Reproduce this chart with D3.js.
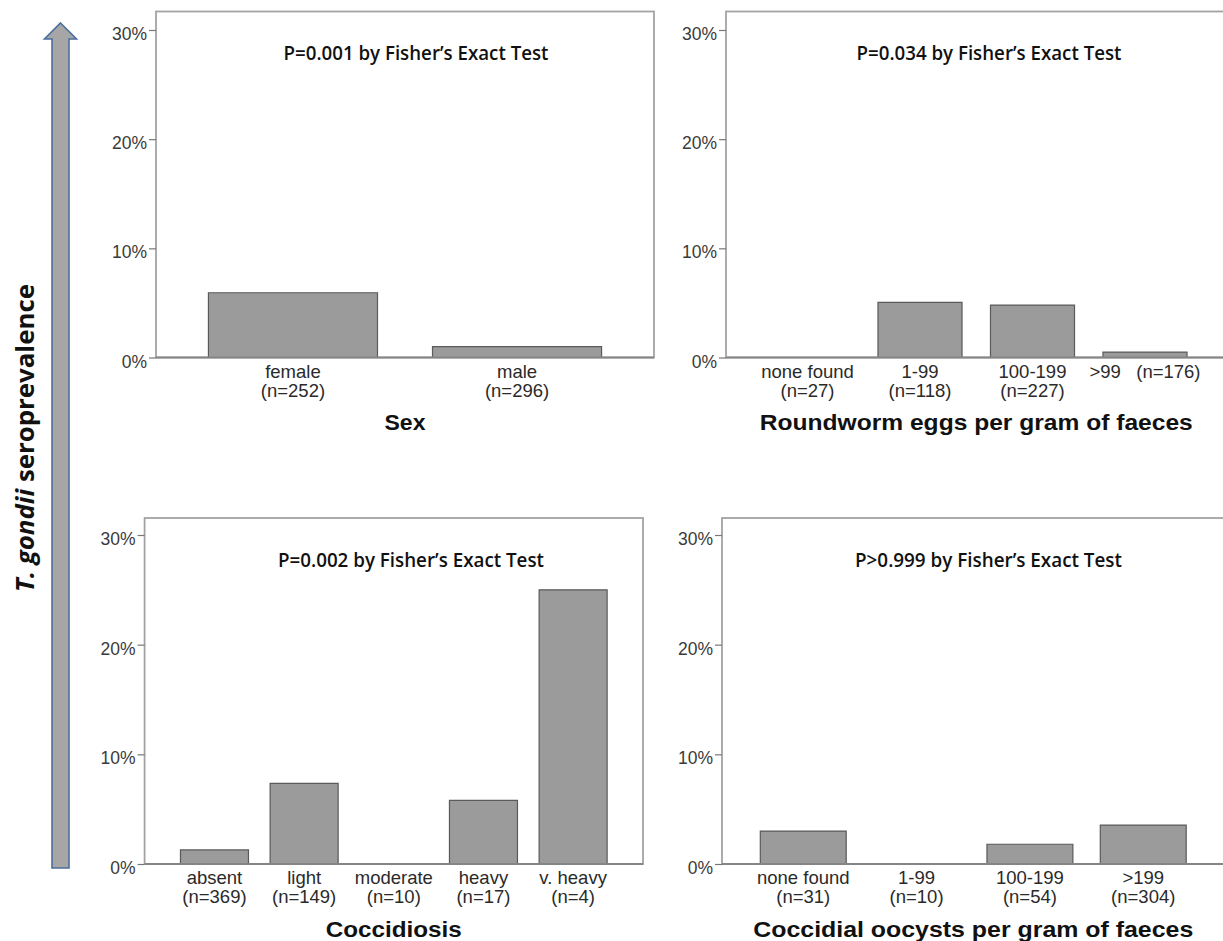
<!DOCTYPE html>
<html>
<head>
<meta charset="utf-8">
<script src="https://cdn.jsdelivr.net/npm/d3@7"></script>
<style>
  html, body { margin: 0; padding: 0; background: #fff; }
  svg { display: block; }
</style>
</head>
<body>
<svg id="chart" width="1223" height="941"></svg>
<script>
// ---------- data ----------
const sexCats = ["female", "male"];
const sexN = [252, 296];
const sexVals = [5.93, 0.99];

const roundCats = ["none found", "1-99", "100-199", ">99"];
const roundN = [27, 118, 227, 176];
const roundVals = [0, 5.05, 4.8, 0.5];

const coccCats = ["absent", "light", "moderate", "heavy", "v. heavy"];
const coccN = [369, 149, 10, 17, 4];
const coccVals = [1.28, 7.35, 0, 5.8, 25.0];

const oocCats = ["none found", "1-99", "100-199", ">199"];
const oocN = [31, 10, 54, 304];
const oocVals = [3.0, 0, 1.8, 3.55];

const yTicks = [0, 10, 20, 30];
const pTexts = ["P=0.001 by Fisher\u2019s Exact Test", "P=0.034 by Fisher\u2019s Exact Test",
                "P=0.002 by Fisher\u2019s Exact Test", "P>0.999 by Fisher\u2019s Exact Test"];
const xTitles = ["Sex", "Roundworm eggs per gram of faeces", "Coccidiosis", "Coccidial oocysts per gram of faeces"];
const yTitleItalic = "T. gondii";
const yTitleRest = " seroprevalence";

// ---------- layout ----------
const panels = [
  { cats: sexCats, n: sexN, vals: sexVals, left: 156, right: 654, top: 11.5, zero: 357.5, y30: 30,
    pi: 0.2455, po: 0.234, pText: pTexts[0], pX: 416, pLen: 265, title: xTitles[0], titleLen: 41, oneLine: [] },
  { cats: roundCats, n: roundN, vals: roundVals, left: 726, right: 1226.5, top: 11.5, zero: 357.5, y30: 30,
    pi: 0.253, po: 0.351, pText: pTexts[1], pX: 989, pLen: 265, title: xTitles[1], titleLen: 433, oneLine: [">99"] },
  { cats: coccCats, n: coccN, vals: coccVals, left: 144.6, right: 643, top: 518, zero: 864, y30: 535,
    pi: 0.2415, po: 0.40, pText: pTexts[2], pX: 411, pLen: 266, title: xTitles[2], titleLen: 136, oneLine: [] },
  { cats: oocCats, n: oocN, vals: oocVals, left: 722, right: 1224.5, top: 518, zero: 864, y30: 535,
    pi: 0.242, po: 0.338, pText: pTexts[3], pX: 988.5, pLen: 267, title: xTitles[3], titleLen: 440, oneLine: [] }
];

const svg = d3.select("#chart");
const labelFont = "'Liberation Sans', Arial, sans-serif";
const annFont = "'Open Sans', 'DejaVu Sans', sans-serif";

panels.forEach(p => {
  const g = svg.append("g");
  const x = d3.scaleBand().domain(p.cats).range([p.left, p.right])
              .paddingInner(p.pi).paddingOuter(p.po);
  const y = d3.scaleLinear().domain([0, 30]).range([p.zero, p.y30]);

  // frame
  g.append("rect")
    .attr("x", p.left).attr("y", p.top)
    .attr("width", p.right - p.left).attr("height", p.zero - p.top)
    .attr("fill", "none").attr("stroke", "#a3a3a3").attr("stroke-width", 1.8);

  // bars
  const data = p.cats.map((c, i) => ({ c, v: p.vals[i], n: p.n[i] }));
  g.selectAll("path.bar").data(data).enter().append("path")
    .attr("class", "bar")
    .attr("d", d => {
      const x0 = x(d.c), x1 = x(d.c) + x.bandwidth();
      const y0 = y(0), y1 = y(d.v);
      return `M${x0},${y0}V${y1}H${x1}V${y0}Z`;
    })
    .attr("fill", "#9b9b9b").attr("stroke", "#5a5a5a").attr("stroke-width", 1.2);

  // zero baseline
  g.append("line")
    .attr("x1", p.left).attr("x2", p.right)
    .attr("y1", y(0)).attr("y2", y(0))
    .attr("stroke", "#858585").attr("stroke-width", 2);

  // y axis
  const ax = g.append("g").attr("transform", `translate(${p.left},0)`)
    .call(d3.axisLeft(y).tickValues(yTicks).tickFormat(d => d + "%").tickSize(7).tickPadding(2));
  ax.select(".domain").remove();
  ax.selectAll(".tick line").attr("stroke", "#777").attr("stroke-width", 1.2);
  ax.selectAll(".tick text")
    .attr("font-family", labelFont).attr("font-size", 17.5).attr("fill", "#3a3a3a")
    .attr("dy", "0.55em");

  // category labels
  const fs = 18.5;
  data.forEach(d => {
    const cx = x(d.c) + x.bandwidth() / 2;
    if (p.oneLine.includes(d.c)) {
      g.append("text").attr("x", cx).attr("y", y(0) + 20)
        .attr("text-anchor", "middle").attr("font-family", labelFont)
        .attr("font-size", fs).attr("fill", "#2a2a2a")
        .attr("xml:space", "preserve")
        .text(d.c + "   (n=" + d.n + ")");
    } else {
      g.append("text").attr("x", cx).attr("y", y(0) + 20)
        .attr("text-anchor", "middle").attr("font-family", labelFont)
        .attr("font-size", fs).attr("fill", "#2a2a2a").text(d.c);
      g.append("text").attr("x", cx).attr("y", y(0) + 39)
        .attr("text-anchor", "middle").attr("font-family", labelFont)
        .attr("font-size", fs).attr("fill", "#2a2a2a").text("(n=" + d.n + ")");
    }
  });

  // P annotation
  g.append("text").attr("x", p.pX).attr("y", p.top + 48.5)
    .attr("text-anchor", "middle").attr("font-family", annFont)
    .attr("font-size", 20).attr("font-weight", 600).attr("fill", "#111")
    .attr("textLength", p.pLen).attr("lengthAdjust", "spacingAndGlyphs")
    .text(p.pText);

  // x title
  g.append("text").attr("x", (p.left + p.right) / 2).attr("y", y(0) + 72.5)
    .attr("text-anchor", "middle").attr("font-family", labelFont)
    .attr("font-size", 22).attr("font-weight", "bold").attr("fill", "#111")
    .attr("textLength", p.titleLen).attr("lengthAdjust", "spacingAndGlyphs")
    .text(p.title);
});

// big arrow on the left
const arrow = { cx: 60.5, tip: 23, headBase: 39, headHalf: 16, shaftHalf: 8.5, bottom: 868 };
svg.append("path")
  .attr("d", `M${arrow.cx},${arrow.tip}
              L${arrow.cx + arrow.headHalf},${arrow.headBase}
              L${arrow.cx + arrow.shaftHalf},${arrow.headBase}
              L${arrow.cx + arrow.shaftHalf},${arrow.bottom}
              L${arrow.cx - arrow.shaftHalf},${arrow.bottom}
              L${arrow.cx - arrow.shaftHalf},${arrow.headBase}
              L${arrow.cx - arrow.headHalf},${arrow.headBase}Z`)
  .attr("fill", "#a6a6a6").attr("stroke", "#4c6f9e").attr("stroke-width", 1.6);

// rotated y title
const yt = svg.append("text")
  .attr("transform", "translate(34,438) rotate(-90)")
  .attr("text-anchor", "middle")
  .attr("font-family", "'Liberation Sans Narrow', 'Open Sans', sans-serif")
  .attr("font-size", 25).attr("font-weight", "bold").attr("fill", "#111")
  .attr("textLength", 308).attr("lengthAdjust", "spacingAndGlyphs");
yt.append("tspan").attr("font-style", "italic").text(yTitleItalic);
yt.append("tspan").text(yTitleRest);
</script>
</body>
</html>
